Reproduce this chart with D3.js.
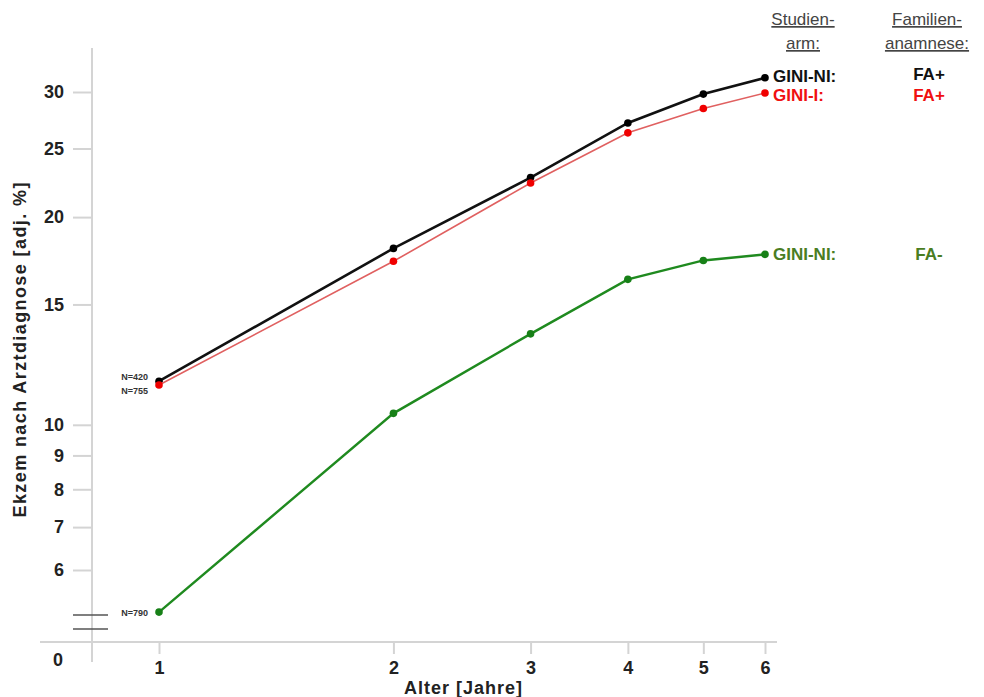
<!DOCTYPE html>
<html>
<head>
<meta charset="utf-8">
<script src="https://cdn.jsdelivr.net/npm/d3@7"></script>
<style>
  body { margin: 0; background: #fff; }
  svg { font-family: "Liberation Sans", Arial, sans-serif; }
</style>
</head>
<body>
<div id="chart"></div>
<script>
// Alter in Jahren
var ages = [1, 2, 3, 4, 5, 6];

// Ekzem nach Arztdiagnose [adj. %]
var giniNiFaPlus = [11.6, 18.05, 22.75, 27.15, 29.8, 31.4];
var giniIFaPlus = [11.45, 17.3, 22.35, 26.3, 28.45, 29.9];
var giniNiFaMinus = [5.14, 10.4, 13.6, 16.3, 17.35, 17.7];

var yTicks = [6, 7, 8, 9, 10, 15, 20, 25, 30];
var xTicks = [1, 2, 3, 4, 5, 6];

var nLabels = ["N=420", "N=755", "N=790"];

var series = [
  { name: "GINI-NI:", fa: "FA+", values: giniNiFaPlus, line: "#111", dot: "#000", text: "#111", width: 2.6, shift: -2 },
  { name: "GINI-I:", fa: "FA+", values: giniIFaPlus, line: "#e06060", dot: "#f00000", text: "#f01010", width: 1.6, shift: 2 },
  { name: "GINI-NI:", fa: "FA-", values: giniNiFaMinus, line: "#1f8a1f", dot: "#178017", text: "#4a7d22", width: 2.4, shift: 0 }
];

var W = 984, H = 697;
var svg = d3.select("#chart").append("svg")
  .attr("width", W)
  .attr("height", H);

// scales: log on age, compressed log on percent
var x = d3.scaleLog().domain([1, 6]).range([159, 765]);
var y = d3.scaleSymlog().constant(1).domain([6, 30]).range([570, 92]);

var axisColor = "#d4d4d4";
var baseY = 642, axisX = 92;

// axis lines
svg.append("line")
  .attr("x1", 40).attr("x2", 777)
  .attr("y1", baseY).attr("y2", baseY)
  .attr("stroke", axisColor).attr("stroke-width", 2);
svg.append("line")
  .attr("x1", axisX).attr("x2", axisX)
  .attr("y1", 48).attr("y2", 662)
  .attr("stroke", axisColor).attr("stroke-width", 2);

// y axis
var gy = svg.append("g")
  .attr("transform", "translate(" + axisX + ",0)")
  .call(d3.axisLeft(y).tickValues(yTicks).tickFormat(d3.format("d")).tickSize(19).tickPadding(9));
gy.select(".domain").remove();
gy.selectAll(".tick line").attr("stroke", axisColor).attr("stroke-width", 2);
gy.selectAll(".tick text")
  .attr("fill", "#222")
  .style("font-size", "18px")
  .style("font-weight", "bold")
  .style("font-family", "'Liberation Sans', Arial, sans-serif");

// x axis
var gx = svg.append("g")
  .attr("transform", "translate(0," + baseY + ")")
  .call(d3.axisBottom(x).tickValues(xTicks).tickFormat(d3.format("d")).tickSize(12).tickPadding(7));
gx.select(".domain").remove();
gx.selectAll(".tick line").attr("stroke", axisColor).attr("stroke-width", 2);
gx.selectAll(".tick text")
  .attr("fill", "#222")
  .style("font-size", "18px")
  .style("font-weight", "bold")
  .style("font-family", "'Liberation Sans', Arial, sans-serif");

// axis break and origin
[615, 629].forEach(function(yy) {
  svg.append("line")
    .attr("x1", 73).attr("x2", 108)
    .attr("y1", yy).attr("y2", yy)
    .attr("stroke", "#555").attr("stroke-width", 1.5);
});
svg.append("text")
  .attr("x", 58).attr("y", 666)
  .attr("text-anchor", "middle")
  .attr("fill", "#222")
  .style("font-size", "18px").style("font-weight", "bold")
  .text("0");

// axis titles
svg.append("text")
  .attr("transform", "translate(26,350) rotate(-90)")
  .attr("text-anchor", "middle")
  .attr("fill", "#222")
  .attr("textLength", 335)
  .style("font-size", "18px").style("font-weight", "bold")
  .text("Ekzem nach Arztdiagnose [adj. %]");
svg.append("text")
  .attr("x", 463).attr("y", 694)
  .attr("text-anchor", "middle")
  .attr("fill", "#222")
  .attr("textLength", 118)
  .style("font-size", "18px").style("font-weight", "bold")
  .text("Alter [Jahre]");

// lines and dots
var line = d3.line()
  .x(function(d, i) { return x(ages[i]); })
  .y(function(d) { return y(d); });

series.forEach(function(s) {
  svg.append("path")
    .datum(s.values)
    .attr("d", line)
    .attr("fill", "none")
    .attr("stroke", s.line)
    .attr("stroke-width", s.width);
  svg.selectAll(null)
    .data(s.values)
    .enter().append("circle")
    .attr("cx", function(d, i) { return x(ages[i]); })
    .attr("cy", function(d) { return y(d); })
    .attr("r", 3.8)
    .attr("fill", s.dot);
});

// series labels at the right end
series.forEach(function(s, i) {
  var yy = y(s.values[s.values.length - 1]) + s.shift;
  svg.append("text")
    .attr("x", 773).attr("y", yy + 6)
    .attr("fill", s.text)
    .style("font-size", "17px").style("font-weight", "bold")
    .text(s.name);
  svg.append("text")
    .attr("x", 929).attr("y", (i === 0 ? yy - 2 : yy) + 6)
    .attr("text-anchor", "middle")
    .attr("fill", s.text)
    .style("font-size", "17px").style("font-weight", "bold")
    .text(s.fa);
});

// headers
var headers = [
  { lines: ["Studien-", "arm:"], cx: 803 },
  { lines: ["Familien-", "anamnese:"], cx: 927 }
];
headers.forEach(function(h) {
  h.lines.forEach(function(t, j) {
    svg.append("text")
      .attr("x", h.cx).attr("y", 25 + j * 24)
      .attr("text-anchor", "middle")
      .attr("fill", "#444")
      .style("font-size", "17px")
      .style("text-decoration", "underline")
      .text(t);
  });
});

// sample sizes at age 1
var nPos = [
  { v: giniNiFaPlus[0], dy: -1 },
  { v: giniIFaPlus[0], dy: 9 },
  { v: giniNiFaMinus[0], dy: 4 }
];
nLabels.forEach(function(t, i) {
  svg.append("text")
    .attr("x", 148).attr("y", y(nPos[i].v) + nPos[i].dy)
    .attr("text-anchor", "end")
    .attr("fill", "#333")
    .style("font-size", "9px").style("font-weight", "bold")
    .text(t);
});
</script>
</body>
</html>
